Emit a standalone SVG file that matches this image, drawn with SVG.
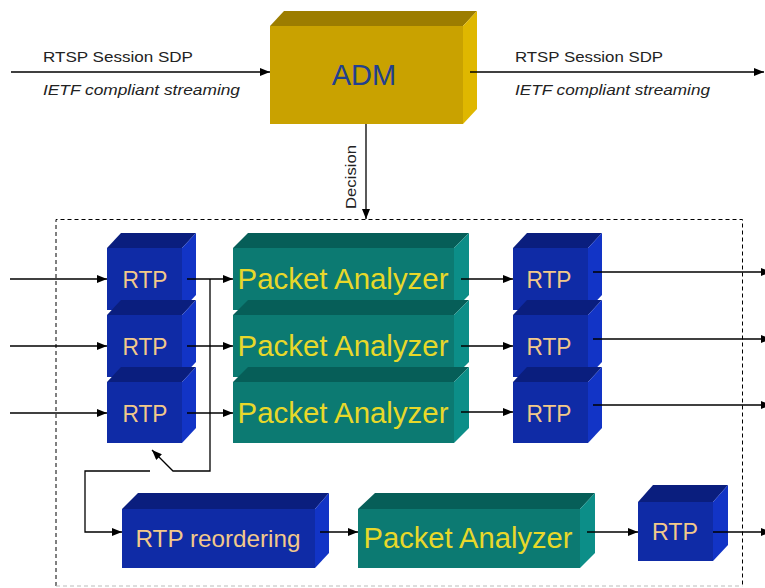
<svg xmlns="http://www.w3.org/2000/svg" width="765" height="588" viewBox="0 0 765 588">
  <defs>
    <marker id="arrow" markerUnits="userSpaceOnUse" markerWidth="10" markerHeight="8" refX="10" refY="4" orient="auto">
      <path d="M0,0 L10,4 L0,8 z" fill="#000"/>
    </marker>
    <style>
      .wire { fill: none; stroke: #000; stroke-width: 1.3; }
      .arr { marker-end: url(#arrow); }
      .frame { fill: none; stroke: #000; stroke-width: 1; stroke-dasharray: 4 3; }
      .lbl { font-family: "Liberation Sans", Arial, sans-serif; font-size: 15px; fill: #222; }
      .it { font-style: italic; }
      .blue-front { fill: #0F2BA6; }
      .blue-top { fill: #0A1E7E; }
      .blue-side { fill: #1234C6; }
      .teal-front { fill: #0C7A72; }
      .teal-top { fill: #065E58; }
      .teal-side { fill: #0C8E88; }
      .gold-front { fill: #C9A200; }
      .gold-top { fill: #9C7D00; }
      .gold-side { fill: #DFB700; }
      .t-rtp { font-family: "Liberation Sans", Arial, sans-serif; font-size: 24px; fill: #F2C98A; text-anchor: middle; }
      .t-pa { font-family: "Liberation Sans", Arial, sans-serif; font-size: 29px; fill: #E8D82A; text-anchor: middle; }
      .t-adm { font-family: "Liberation Sans", Arial, sans-serif; font-size: 29px; fill: #22408E; text-anchor: middle; }
    </style>
  </defs>

  <rect width="765" height="588" fill="#fff"/>

  <!-- processing frame -->
  <g id="frame">
    <path class="frame" d="M56,586 V219.5 H742.5 V586"/>
    <path d="M56,586 H742.5" fill="none" stroke="#bbb" stroke-width="1" stroke-dasharray="4 3"/>
  </g>

  <!-- ADM -->
  <g id="adm">
    <polygon class="gold-top" points="270,26 284,11 477,11 463,26"/>
    <polygon class="gold-side" points="463,26 477,11 477,109 463,124"/>
    <rect class="gold-front" x="270" y="26" width="193" height="98"/>
    <text class="t-adm" x="364" y="85">ADM</text>
  </g>

  <!-- input RTP column -->
  <g id="rtp-in-1">
    <polygon class="blue-top" points="107,248 121,233 196,233 182,248"/>
    <polygon class="blue-side" points="182,248 196,233 196,295 182,310"/>
    <rect class="blue-front" x="107" y="248" width="75" height="62"/>
    <text class="t-rtp" x="145" y="288" textLength="45" lengthAdjust="spacingAndGlyphs">RTP</text>
  </g>
  <g id="rtp-in-2">
    <polygon class="blue-top" points="107,315 121,300 196,300 182,315"/>
    <polygon class="blue-side" points="182,315 196,300 196,362 182,377"/>
    <rect class="blue-front" x="107" y="315" width="75" height="62"/>
    <text class="t-rtp" x="145" y="355" textLength="45" lengthAdjust="spacingAndGlyphs">RTP</text>
  </g>
  <g id="rtp-in-3">
    <polygon class="blue-top" points="107,382 121,367 196,367 182,382"/>
    <polygon class="blue-side" points="182,382 196,367 196,428 182,443"/>
    <rect class="blue-front" x="107" y="382" width="75" height="61"/>
    <text class="t-rtp" x="145" y="422" textLength="45" lengthAdjust="spacingAndGlyphs">RTP</text>
  </g>

  <!-- packet analyzer column -->
  <g id="pa-1">
    <polygon class="teal-top" points="233,248 248,233 469,233 454,248"/>
    <polygon class="teal-side" points="454,248 469,233 469,295 454,310"/>
    <rect class="teal-front" x="233" y="248" width="221" height="62"/>
    <text class="t-pa" x="343" y="289" textLength="211" lengthAdjust="spacingAndGlyphs">Packet Analyzer</text>
  </g>
  <g id="pa-2">
    <polygon class="teal-top" points="233,315 248,300 469,300 454,315"/>
    <polygon class="teal-side" points="454,315 469,300 469,362 454,377"/>
    <rect class="teal-front" x="233" y="315" width="221" height="62"/>
    <text class="t-pa" x="343" y="356" textLength="211" lengthAdjust="spacingAndGlyphs">Packet Analyzer</text>
  </g>
  <g id="pa-3">
    <polygon class="teal-top" points="233,382 248,367 469,367 454,382"/>
    <polygon class="teal-side" points="454,382 469,367 469,428 454,443"/>
    <rect class="teal-front" x="233" y="382" width="221" height="61"/>
    <text class="t-pa" x="343" y="423" textLength="211" lengthAdjust="spacingAndGlyphs">Packet Analyzer</text>
  </g>

  <!-- output RTP column -->
  <g id="rtp-out-1">
    <polygon class="blue-top" points="513,248 527,233 602,233 588,248"/>
    <polygon class="blue-side" points="588,248 602,233 602,295 588,310"/>
    <rect class="blue-front" x="513" y="248" width="75" height="62"/>
    <text class="t-rtp" x="549" y="288" textLength="45" lengthAdjust="spacingAndGlyphs">RTP</text>
  </g>
  <g id="rtp-out-2">
    <polygon class="blue-top" points="513,315 527,300 602,300 588,315"/>
    <polygon class="blue-side" points="588,315 602,300 602,362 588,377"/>
    <rect class="blue-front" x="513" y="315" width="75" height="62"/>
    <text class="t-rtp" x="549" y="355" textLength="45" lengthAdjust="spacingAndGlyphs">RTP</text>
  </g>
  <g id="rtp-out-3">
    <polygon class="blue-top" points="513,382 527,367 602,367 588,382"/>
    <polygon class="blue-side" points="588,382 602,367 602,428 588,443"/>
    <rect class="blue-front" x="513" y="382" width="75" height="61"/>
    <text class="t-rtp" x="549" y="422" textLength="45" lengthAdjust="spacingAndGlyphs">RTP</text>
  </g>

  <!-- reordering path -->
  <g id="rtp-reordering">
    <polygon class="blue-top" points="122,509 138,493 329,493 315,509"/>
    <polygon class="blue-side" points="315,509 329,493 329,553 315,568"/>
    <rect class="blue-front" x="122" y="509" width="193" height="59"/>
    <text class="t-rtp" x="218" y="547" textLength="165" lengthAdjust="spacingAndGlyphs">RTP reordering</text>
  </g>
  <g id="pa-4">
    <polygon class="teal-top" points="358,509 375,493 595,493 580,509"/>
    <polygon class="teal-side" points="580,509 595,493 595,553 580,568"/>
    <rect class="teal-front" x="358" y="509" width="222" height="59"/>
    <text class="t-pa" x="468" y="548" textLength="209" lengthAdjust="spacingAndGlyphs">Packet Analyzer</text>
  </g>
  <g id="rtp-out-4">
    <polygon class="blue-top" points="638,502 653,485 728,485 713,502"/>
    <polygon class="blue-side" points="713,502 728,485 728,545 713,561"/>
    <rect class="blue-front" x="638" y="502" width="75" height="59"/>
    <text class="t-rtp" x="675" y="540" textLength="46" lengthAdjust="spacingAndGlyphs">RTP</text>
  </g>

  <!-- connectors -->
  <g id="connectors">
    <path class="wire arr" d="M11,72 H270"/>
    <path class="wire arr" d="M470,72 H764"/>
    <path class="wire arr" d="M366,124 V219"/>

    <path class="wire arr" d="M10,279 H107"/>
    <path class="wire arr" d="M10,346 H107"/>
    <path class="wire arr" d="M10,413 H107"/>

    <path class="wire arr" d="M187,279 H233"/>
    <path class="wire arr" d="M187,346 H233"/>
    <path class="wire arr" d="M187,413 H233"/>

    <path class="wire arr" d="M210,279 V471 H173 L152,450"/>
    <path class="wire arr" d="M150,471 H85 V532 H122"/>

    <path class="wire arr" d="M461,279 H513"/>
    <path class="wire arr" d="M461,346 H513"/>
    <path class="wire arr" d="M461,412 H513"/>

    <path class="wire arr" d="M593,272 H771"/>
    <path class="wire arr" d="M593,339 H771"/>
    <path class="wire arr" d="M593,405 H771"/>

    <path class="wire arr" d="M320,532 H358"/>
    <path class="wire arr" d="M587,532 H638"/>
    <path class="wire arr" d="M713,532 H771"/>
  </g>

  <!-- connector labels -->
  <g id="labels">
    <text class="lbl" x="43" y="62" textLength="150" lengthAdjust="spacingAndGlyphs">RTSP Session SDP</text>
    <text class="lbl it" x="43" y="95" textLength="197" lengthAdjust="spacingAndGlyphs">IETF compliant streaming</text>
    <text class="lbl" x="515" y="62" textLength="148" lengthAdjust="spacingAndGlyphs">RTSP Session SDP</text>
    <text class="lbl it" x="515" y="95" textLength="195" lengthAdjust="spacingAndGlyphs">IETF compliant streaming</text>
    <text class="lbl" transform="translate(356,177) rotate(-90)" text-anchor="middle" textLength="64" lengthAdjust="spacingAndGlyphs">Decision</text>
  </g>
</svg>
